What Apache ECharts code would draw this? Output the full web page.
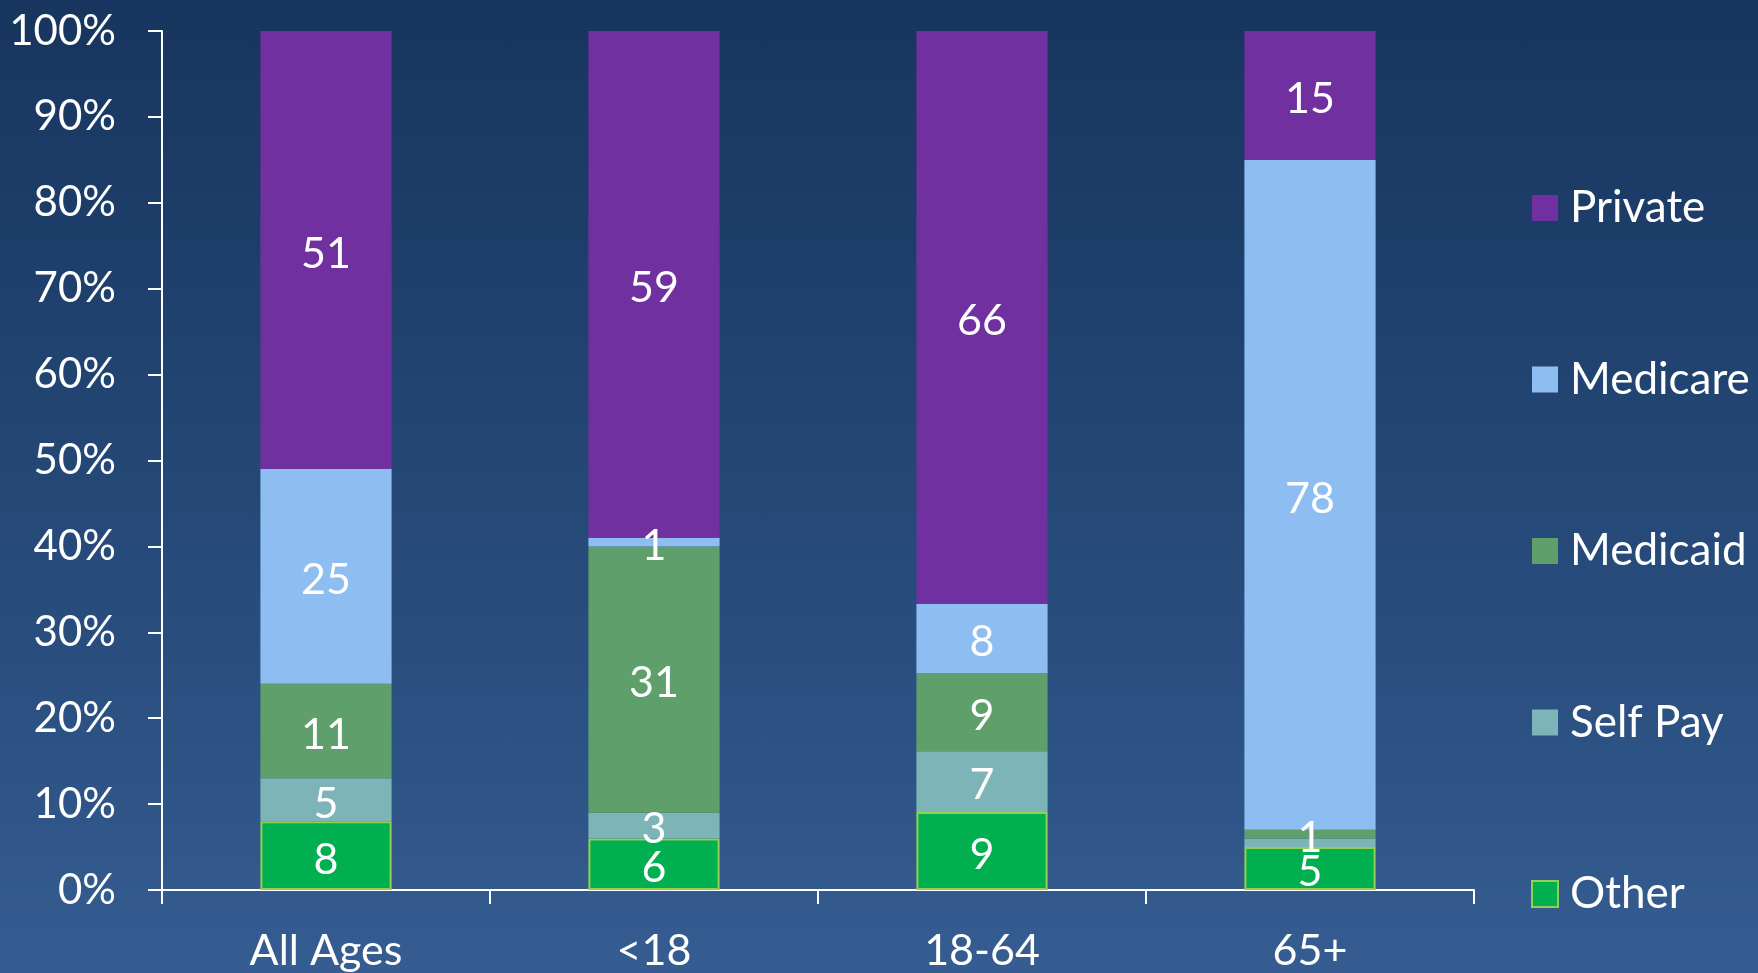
<!DOCTYPE html>
<html>
<head>
<meta charset="utf-8">
<script src="https://cdn.jsdelivr.net/npm/echarts@6/dist/echarts.min.js"></script>
<style>
html,body{margin:0;padding:0;width:1758px;height:973px;overflow:hidden;}
#c{width:1758px;height:973px;background:linear-gradient(to bottom,#17355e 0%,#2a4f80 70%,#365d92 100%);}
</style>
</head>
<body>
<div id="c"></div>
<script>
const categories = ['All Ages', '<18', '18-64', '65+'];
const seriesNames = ['Other', 'Self Pay', 'Medicaid', 'Medicare', 'Private'];
const other    = [8, 6, 9, 5];
const selfPay  = [5, 3, 7, 1];
const medicaid = [11, 31, 9, 1];
const medicare = [25, 1, 8, 78];
const privateIns = [51, 59, 66, 15];
const yTicks = [0, 10, 20, 30, 40, 50, 60, 70, 80, 90, 100];
const legendOrder = ['Private', 'Medicare', 'Medicaid', 'Self Pay', 'Other'];

const values = [other, selfPay, medicaid, medicare, privateIns];
const colors = ['#00b050', '#7db4b8', '#5e9f6b', '#8ebdf2', '#7030a0'];
const totals = categories.map((_, i) => values.reduce((s, arr) => s + arr[i], 0));
const hiddenLabels = {'Self Pay': [3]};

const FONT = 'Lato';
const chart = echarts.init(document.getElementById('c'), null, {renderer: 'canvas'});
const series = seriesNames.map((name, si) => ({
  name: name,
  type: 'bar',
  stack: 'total',
  barCategoryGap: '60%',
  itemStyle: si === 0 ? {color: colors[si], borderColor: '#92d050', borderWidth: 2} : {color: colors[si]},
  label: {
    show: true,
    position: 'inside',
    offset: [0, 4],
    color: '#ffffff',
    fontFamily: FONT,
    fontSize: 43,
    formatter: p => String(values[si][p.dataIndex])
  },
  data: values[si].map((v, i) => {
    const item = {value: v / totals[i] * 100};
    if (hiddenLabels[name] && hiddenLabels[name].includes(i)) item.label = {show: false};
    return item;
  })
}));

chart.setOption({
  backgroundColor: 'transparent',
  animation: false,
  grid: {left: 162, right: 284, top: 31, bottom: 82, containLabel: false},
  legend: {
    orient: 'vertical',
    left: 1526,
    top: 181,
    data: legendOrder,
    itemWidth: 26,
    itemHeight: 26,
    itemGap: 127.5,
    icon: 'rect',
    textStyle: {color: '#ffffff', fontFamily: FONT, fontSize: 44, lineHeight: 44, padding: [0, 0, 0, 7]},
    selectedMode: false
  },
  xAxis: {
    type: 'category',
    data: categories,
    axisLine: {lineStyle: {color: '#ffffff', width: 2}},
    axisTick: {show: true, length: 14, lineStyle: {color: '#ffffff', width: 2}},
    axisLabel: {color: '#ffffff', fontFamily: FONT, fontSize: 43, margin: 40}
  },
  yAxis: {
    type: 'value',
    min: yTicks[0],
    max: yTicks[yTicks.length - 1],
    interval: yTicks[1] - yTicks[0],
    axisLine: {show: true, lineStyle: {color: '#ffffff', width: 2}},
    axisTick: {show: true, length: 14, lineStyle: {color: '#ffffff', width: 2}},
    splitLine: {show: false},
    axisLabel: {color: '#ffffff', fontFamily: FONT, fontSize: 42, margin: 46, formatter: '{value}%'}
  },
  series: series
});
</script>
</body>
</html>
